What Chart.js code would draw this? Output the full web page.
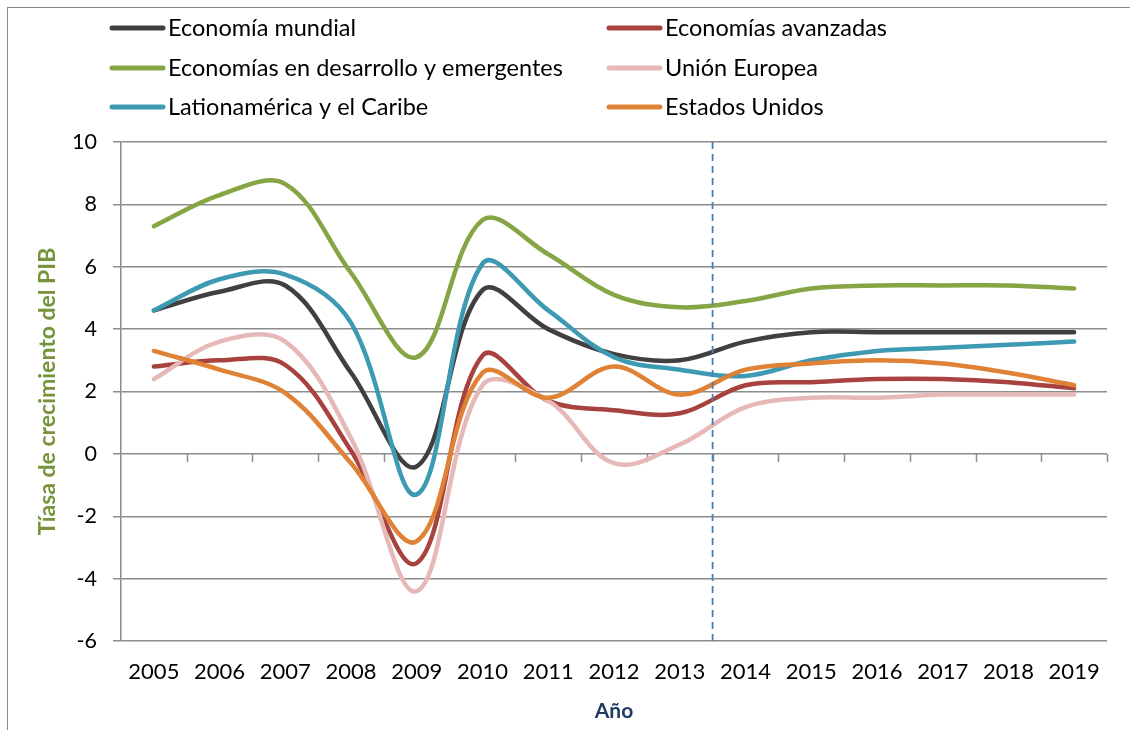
<!DOCTYPE html>
<html>
<head>
<meta charset="utf-8">
<script src="https://cdn.jsdelivr.net/npm/chart.js@4.4.1/dist/chart.umd.min.js"></script>
<style>
  html, body { margin: 0; padding: 0; background: #fff; }
  #wrap { position: relative; width: 1130px; height: 730px; overflow: hidden; }
  #frame { position: absolute; left: 7px; top: 7px; width: 1140px; height: 760px; border: 1.5px solid #8a8a8a; box-sizing: border-box; }
  canvas { position: absolute; left: 0; top: 0; }
</style>
</head>
<body>
<div id="wrap">
  <div id="frame"></div>
  <canvas id="growthChart" width="1130" height="730"></canvas>
</div>
<script>
// Categorías (años)
const years = ['2005', '2006', '2007', '2008', '2009', '2010', '2011', '2012', '2013', '2014', '2015', '2016', '2017', '2018', '2019'];
const lastActualYear = '2013';

// Tasa de crecimiento del PIB (%)
const economiaMundial   = [4.6, 5.2, 5.4, 2.6, -0.4, 5.25, 4.0, 3.2, 3.0, 3.6, 3.9, 3.9, 3.9, 3.9, 3.9];
const economiasAvanzadas = [2.8, 3.0, 2.85, 0.1, -3.5, 3.15, 1.7, 1.4, 1.3, 2.2, 2.3, 2.4, 2.4, 2.3, 2.1];
const desarrolloEmergentes = [7.3, 8.3, 8.65, 5.8, 3.1, 7.5, 6.4, 5.1, 4.7, 4.9, 5.3, 5.4, 5.4, 5.4, 5.3];
const unionEuropea      = [2.4, 3.6, 3.6, 0.5, -4.4, 2.2, 1.7, -0.3, 0.3, 1.5, 1.8, 1.8, 1.9, 1.9, 1.9];
const latinoamerica     = [4.6, 5.6, 5.75, 4.2, -1.3, 6.1, 4.6, 3.1, 2.7, 2.5, 3.0, 3.3, 3.4, 3.5, 3.6];
const estadosUnidos     = [3.3, 2.7, 1.95, -0.3, -2.8, 2.6, 1.8, 2.8, 1.9, 2.7, 2.9, 3.0, 2.9, 2.6, 2.2];

const yTicks = [-6, -4, -2, 0, 2, 4, 6, 8, 10];

const FONT = 'Lato, "Open Sans", sans-serif';
const GRID = '#8c8c8c';

const series = [
  { label: 'Economía mundial', data: economiaMundial, color: '#404040' },
  { label: 'Economías avanzadas', data: economiasAvanzadas, color: '#A8423F' },
  { label: 'Economías en desarrollo y emergentes', data: desarrolloEmergentes, color: '#86A545' },
  { label: 'Unión Europea', data: unionEuropea, color: '#E6B9B8' },
  { label: 'Lationamérica y el Caribe', data: latinoamerica, color: '#3E99B2' },
  { label: 'Estados Unidos', data: estadosUnidos, color: '#DF8235' }
];

// leyenda en dos columnas, como en Excel
const gridLegend = {
  id: 'gridLegend',
  afterDraw(chart, args, opts) {
    const ctx = chart.ctx;
    ctx.save();
    ctx.font = opts.font;
    ctx.textBaseline = 'middle';
    ctx.fillStyle = '#000';
    ctx.lineCap = 'round';
    chart.data.datasets.forEach((ds, i) => {
      const col = i % 2, row = Math.floor(i / 2);
      const x = opts.colX[col], y = opts.rowY[row];
      ctx.strokeStyle = ds.borderColor;
      ctx.lineWidth = 5;
      ctx.beginPath();
      ctx.moveTo(x + 2, y);
      ctx.lineTo(x + opts.lineLen - 2, y);
      ctx.stroke();
      ctx.fillText(ds.label, x + opts.lineLen + 3, y);
    });
    ctx.restore();
  }
};

// marcas del eje horizontal sobre la línea de 0 y separación de proyecciones
const axisExtras = {
  id: 'axisExtras',
  beforeDatasetsDraw(chart) {
    const { ctx, scales: { x, y } } = chart;
    const y0 = y.getPixelForValue(0);
    ctx.save();
    ctx.strokeStyle = GRID;
    ctx.lineWidth = 1.5;
    ctx.beginPath();
    for (let i = 1; i <= years.length; i++) {
      const px = i < years.length ? (x.getPixelForValue(i - 1) + x.getPixelForValue(i)) / 2 : x.right;
      ctx.moveTo(Math.round(px) + 0.5, y0);
      ctx.lineTo(Math.round(px) + 0.5, y0 + 8);
    }
    ctx.stroke();
    ctx.restore();
  },
  afterDatasetsDraw(chart) {
    const { ctx, chartArea, scales: { x } } = chart;
    const idx = years.indexOf(lastActualYear);
    const px = (x.getPixelForValue(idx) + x.getPixelForValue(idx + 1)) / 2;
    ctx.save();
    ctx.strokeStyle = '#4A7EBB';
    ctx.lineWidth = 1.8;
    ctx.setLineDash([7, 5]);
    ctx.beginPath();
    ctx.moveTo(px, chartArea.top);
    ctx.lineTo(px, chartArea.bottom);
    ctx.stroke();
    ctx.restore();
  }
};

const ctx = document.getElementById('growthChart').getContext('2d');
const growthChart = new Chart(ctx, {
  type: 'line',
  data: {
    labels: years,
    datasets: series.map((s, i) => ({
      label: s.label,
      data: s.data,
      borderColor: s.color,
      backgroundColor: s.color,
      borderWidth: 4.5,
      borderCapStyle: 'round',
      pointRadius: 0,
      pointHoverRadius: 0,
      tension: 0.36,
      fill: false,
      order: series.length - i
    }))
  },
  options: {
    responsive: false,
    animation: false,
    events: [],
    layout: { padding: { top: 142, right: 23, left: 0, bottom: 0 } },
    plugins: {
      legend: { display: false },
      tooltip: { enabled: false },
      gridLegend: { font: '23.5px ' + FONT, colX: [110, 607], rowY: [28, 68, 107], lineLen: 55 }
    },
    scales: {
      x: {
        offset: true,
        grid: { display: false, drawTicks: false },
        border: { display: false },
        ticks: { color: '#000', font: { family: FONT, size: 22 }, padding: 18, maxRotation: 0, autoSkip: false },
        title: { display: true, text: 'Año', color: '#1F3B63', font: { family: FONT, size: 21, weight: 'bold' }, padding: { top: 0, bottom: 6 } },
        afterFit(scale) { scale.width = scale.width; scale.height = 89; }
      },
      y: {
        min: -6,
        max: 10,
        afterBuildTicks(scale) { scale.ticks = yTicks.map(v => ({ value: v })); },
        grid: { color: GRID, lineWidth: 1.5, tickLength: 8, drawTicks: true },
        border: { display: true, color: GRID, width: 1.5 },
        ticks: { color: '#000', font: { family: FONT, size: 21.5 }, padding: 16 },
        title: { display: true, text: 'Tíasa de crecimiento del PIB', color: '#77933C', font: { family: FONT, size: 23, weight: 'bold' }, padding: { top: 34, bottom: 0 } },
        afterFit(scale) { scale.width = 121; }
      }
    }
  },
  plugins: [gridLegend, axisExtras]
});
</script>
</body>
</html>
